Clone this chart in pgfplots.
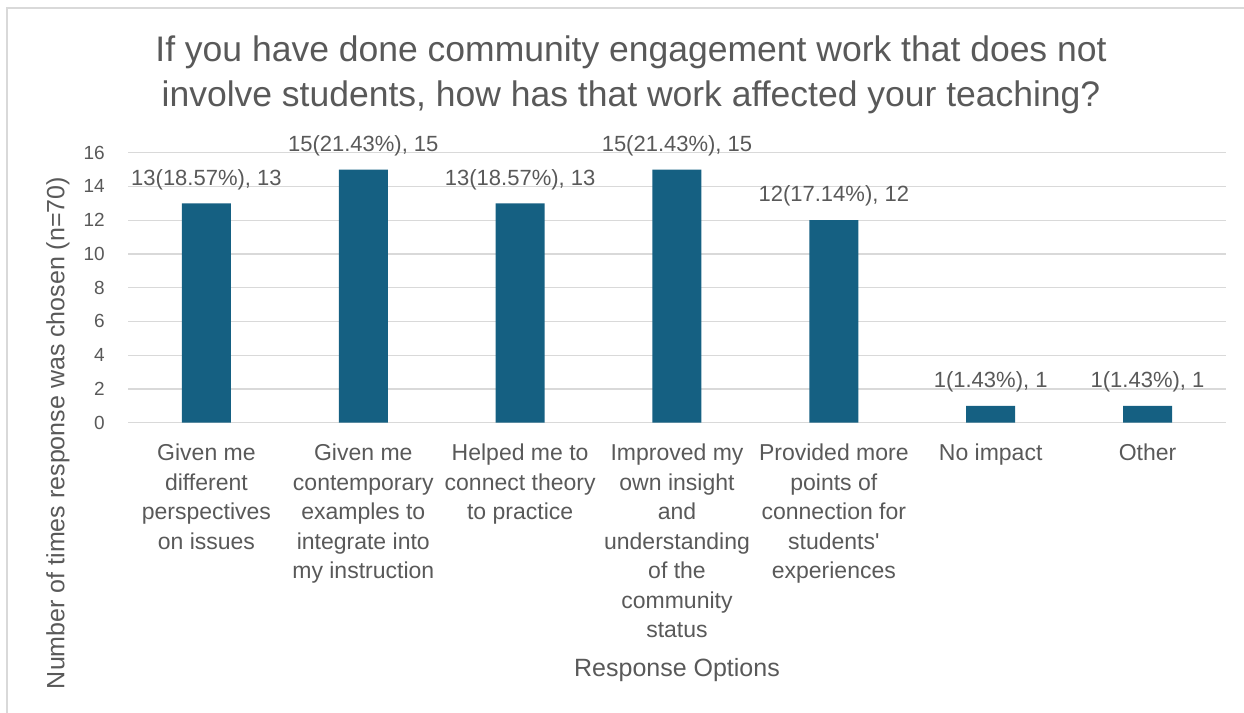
\documentclass[border=0pt]{standalone}
\usepackage{pgfplots}
\pgfplotsset{compat=1.18}
\usepackage{fontspec}
\setmainfont{Liberation Sans}
\definecolor{barblue}{HTML}{156082}
\definecolor{txtgray}{HTML}{595959}
\definecolor{gridgray}{HTML}{D9D9D9}

\begin{document}
\begin{tikzpicture}[x=1bp,y=1bp]
\useasboundingbox (0bp,0bp) rectangle (1244bp,713bp);
% chart frame (only top and left edges are visible)
\draw[gridgray, line width=1.5bp] (7bp,0bp) -- (7bp,705bp) -- (1244bp,705bp);
\node[txtgray, align=center, font=\fontsize{35.5bp}{45bp}\selectfont] at (631bp,638.5bp)
  {If you have done community engagement work that does not\\
   involve students, how has that work affected your teaching?};
\begin{axis}[
  at={(128bp,290.3bp)}, anchor=south west,
  scale only axis, width=1098bp, height=270bp,
  ymin=0, ymax=16, ytick={0,2,...,16},
  xmin=-0.5, xmax=6.5, xtick={0,...,6},
  axis line style={draw=none},
  major tick length=0pt,
  ymajorgrids, grid style={gridgray, line width=1.2bp},
  ybar, bar width=49bp,
  /pgf/number format/assume math mode=true,
  yticklabel style={txtgray, anchor=east, inner sep=0pt, xshift=-23bp,
    font=\fontsize{19bp}{22bp}\selectfont},
  xticklabel style={txtgray, anchor=north, inner sep=0pt, yshift=-21bp, align=center,
    font=\fontsize{23bp}{29.5bp}\selectfont},
  xticklabels={
    {Given me\\different\\perspectives\\on issues},
    {Given me\\contemporary\\examples to\\integrate into\\my instruction},
    {Helped me to\\connect theory\\to practice},
    {Improved my\\own insight\\and\\understanding\\of the\\community\\status},
    {Provided more\\points of\\connection for\\students\textquotesingle\\experiences},
    {No impact},
    {Other}},
  nodes near coords,
  point meta=explicit symbolic,
  every node near coord/.append style={txtgray, anchor=center, inner sep=0pt,
    yshift=24bp, font=\fontsize{22bp}{24bp}\selectfont},
  clip=false,
]
\addplot[fill=barblue, draw=none] coordinates {
  (0,13) [13(18.57\%), 13]
  (1,15) [15(21.43\%), 15]
  (2,13) [13(18.57\%), 13]
  (3,15) [15(21.43\%), 15]
  (4,12) [12(17.14\%), 12]
  (5,1)  [1(1.43\%), 1]
  (6,1)  [1(1.43\%), 1]
};
\end{axis}
\node[txtgray, rotate=90, font=\fontsize{25bp}{28bp}\selectfont] at (58bp,280bp)
  {Number of times response was chosen (n=70)};
\node[txtgray, font=\fontsize{25bp}{28bp}\selectfont] at (677bp,43bp) {Response Options};
\end{tikzpicture}
\end{document}
